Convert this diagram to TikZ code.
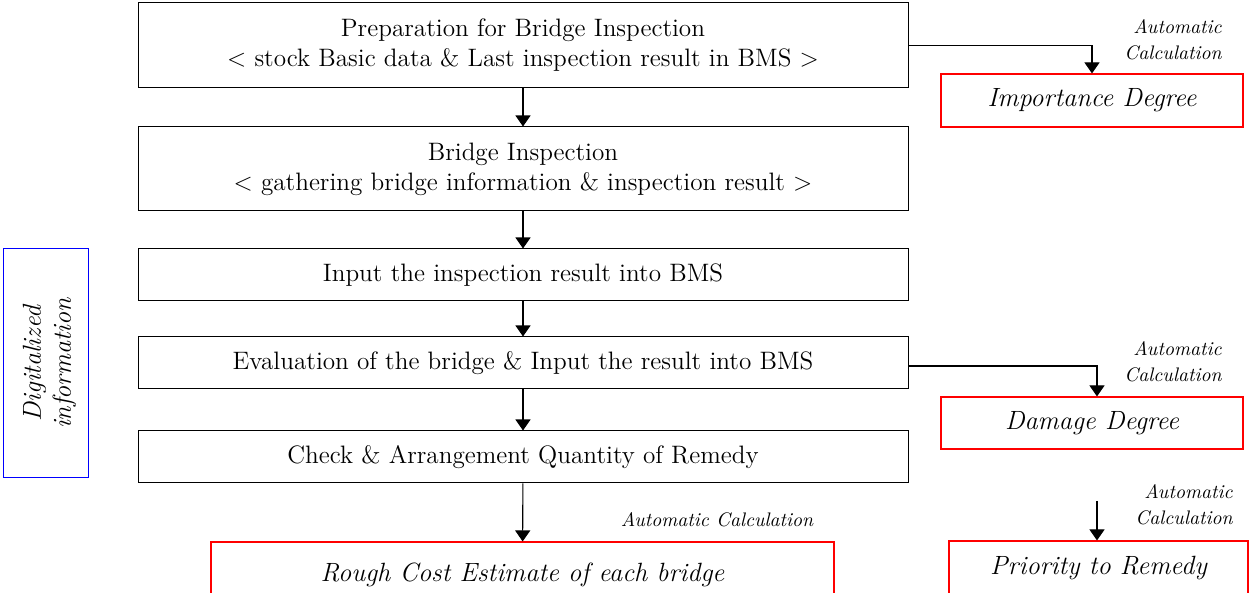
\documentclass[tikz,border=0pt]{standalone}
\usetikzlibrary{arrows.meta}
\begin{document}
\begin{tikzpicture}[x=0.5pt,y=-0.5pt,
  mainbox/.style={draw=black, line width=0.5pt, inner sep=0pt, align=center,
    minimum width=385pt, font=\fontsize{12.6}{15}\selectfont},
  redbox/.style={draw=red, line width=0.55pt, inner sep=0pt,
    font=\fontsize{13.2}{15}\selectfont\itshape},
  autolbl/.style={inner sep=0pt, align=right, anchor=east,
    font=\fontsize{9.8}{13}\selectfont\itshape},
  arr/.style={line width=0.55pt, -{Triangle[width=7.5pt,length=5.5pt]}}]
\useasboundingbox (0,0) rectangle (1250,593);
% main flow boxes
\node[mainbox, minimum height=42.5pt] (b1) at (523,45.5)
  {Preparation for Bridge Inspection\\ \textless\ stock Basic data \& Last inspection result in BMS \textgreater};
\node[mainbox, minimum height=42pt] (b2) at (523,169)
  {Bridge Inspection\\ \textless\ gathering bridge information \& inspection result \textgreater};
\node[mainbox, minimum height=26pt] (b3) at (523,275)
  {Input the inspection result into BMS};
\node[mainbox, minimum height=26pt] (b4) at (523,363)
  {Evaluation of the bridge \& Input the result into BMS};
\node[mainbox, minimum height=26pt] (b5) at (523,457)
  {Check \& Arrangement Quantity of Remedy};
% result boxes
\node[redbox, minimum width=151pt, minimum height=26.5pt] (imp) at (1092,100.5) {Importance Degree};
\node[redbox, minimum width=151pt, minimum height=26pt] (dmg) at (1092,423) {Damage Degree};
\node[redbox, minimum width=149.5pt, minimum height=27pt] (pri) at (1098.5,568) {Priority to Remedy};
\node[redbox, minimum width=311.5pt, minimum height=33pt] (rce) at (522.5,575) {Rough Cost Estimate of each bridge};
% digitalized information
\node[draw=blue, line width=0.5pt, minimum width=42.5pt, minimum height=114.5pt, inner sep=0pt] (dig) at (45.5,363.5) {};
\node[rotate=90, align=center, inner sep=0pt, font=\fontsize{13}{15}\selectfont\itshape] (digt) at ([xshift=2pt]dig.center)
  {Digitalized\\ information};
% automatic calculation labels
\node[autolbl] (a1) at (1222,40) {Automatic\\ Calculation};
\node[autolbl] (a2) at (1222,362) {Automatic\\ Calculation};
\node[autolbl] (a3) at (1233,505) {Automatic\\ Calculation};
\node[autolbl, anchor=center] (a4) at (717,520) {Automatic Calculation};
% connectors
\draw[arr] (b1) -- (b2);
\draw[arr] (b2) -- (b3);
\draw[arr] (b3) -- (b4);
\draw[arr] (b4) -- (b5);
\draw[arr] (b5) -- (rce);
\draw[arr] (b1.east) -| (imp.north);
\draw[arr] ([yshift=-1.5pt]b4.east) -| ([xshift=2.5pt]dmg.north);
\coordinate (pa) at (1097,501);
\draw[arr] (pa) -- (pa |- pri.north);
\end{tikzpicture}
\end{document}
